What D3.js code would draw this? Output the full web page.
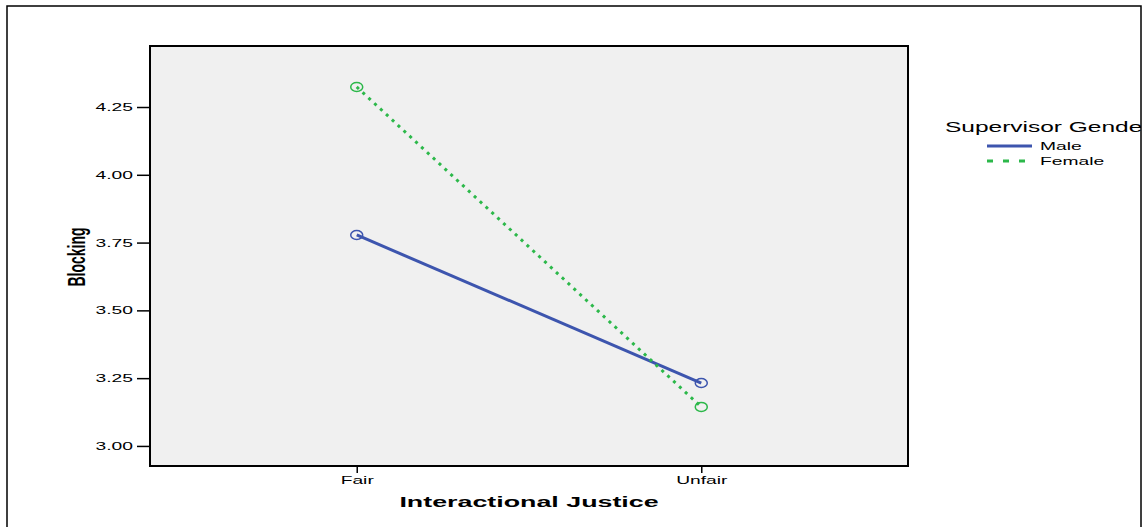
<!DOCTYPE html>
<html><head><meta charset="utf-8">
<script src="https://cdn.jsdelivr.net/npm/d3@7"></script>
<style>body{margin:0;background:#fff}svg{display:block}</style>
</head><body>
<svg id="c" width="1145" height="527"></svg>
<script>
const categories = ["Fair", "Unfair"];
const seriesNames = ["Male", "Female"];
const maleValues = [3.778, 3.232];
const femaleValues = [4.324, 3.144];
const yTicks = [3.00, 3.25, 3.50, 3.75, 4.00, 4.25];

const svg = d3.select("#c");
const plot = {l:150, r:908, t:46, b:466};
const colors = {Male:"#3d55ae", Female:"#2cb84a"};
const SX = 1.75; // horizontal text stretch
const FONT = "Liberation Sans, Arial, sans-serif";

svg.append("clipPath").attr("id","outer").append("rect").attr("x",7).attr("y",6).attr("width",1134).attr("height",530);
const g = svg.append("g").attr("clip-path","url(#outer)");

svg.append("rect").attr("x",7).attr("y",6).attr("width",1134).attr("height",540)
  .attr("fill","none").attr("stroke","#000").attr("stroke-width",1.5);

const x = d3.scalePoint().domain(categories).range([plot.l, plot.r]).padding(0.6);
const y = d3.scaleLinear().domain([2.926, 4.475]).range([plot.b, plot.t]);

g.append("rect").attr("x",plot.l).attr("y",plot.t).attr("width",plot.r-plot.l).attr("height",plot.b-plot.t)
  .attr("fill","#f0f0f0");

const yAxis = d3.axisLeft(y).tickValues(yTicks).tickFormat(d3.format(".2f")).tickSize(13).tickPadding(4);
const ya = g.append("g").attr("transform",`translate(${plot.l},0)`).call(yAxis);
ya.select(".domain").remove();
ya.selectAll(".tick line").attr("stroke","#000").attr("stroke-width",1.5);
ya.selectAll(".tick text").attr("font-family",FONT).attr("font-size",11).attr("fill","#000")
  .attr("x", -17/SX).attr("transform",`scale(${SX},1)`);

const xAxis = d3.axisBottom(x).tickSize(7).tickPadding(3);
const xa = g.append("g").attr("transform",`translate(0,${plot.b})`).call(xAxis);
xa.select(".domain").remove();
xa.selectAll(".tick line").attr("stroke","#000").attr("stroke-width",1.5);
xa.selectAll(".tick text").attr("font-family",FONT).attr("font-size",11).attr("fill","#000")
  .attr("transform",`scale(${SX},1)`);

g.append("rect").attr("x",plot.l).attr("y",plot.t).attr("width",plot.r-plot.l).attr("height",plot.b-plot.t)
  .attr("fill","none").attr("stroke","#000").attr("stroke-width",2);

const series = [
  {name:"Male", values:maleValues, dash:null},
  {name:"Female", values:femaleValues, dash:"3,5"}
];
const line = d3.line().x((d,i)=>x(categories[i])).y(d=>y(d));
series.forEach(s=>{
  g.append("path").datum(s.values).attr("d",line).attr("fill","none")
    .attr("stroke",colors[s.name]).attr("stroke-width",3)
    .attr("stroke-dasharray",s.dash);
  g.selectAll(null).data(s.values).enter().append("ellipse")
    .attr("cx",(d,i)=>x(categories[i])).attr("cy",d=>y(d)).attr("rx",6).attr("ry",4.5)
    .attr("fill","none").attr("stroke",colors[s.name]).attr("stroke-width",1.5);
});

// axis titles
g.append("text").attr("transform",`translate(85,257) rotate(-90) scale(1,${SX})`)
  .attr("text-anchor","middle").attr("font-family",FONT)
  .attr("font-weight","bold").attr("font-size",14).text("Blocking");
g.append("text").attr("transform",`translate(${(plot.l+plot.r)/2},507) scale(${SX+0.1},1)`)
  .attr("text-anchor","middle").attr("font-family",FONT)
  .attr("font-weight","bold").attr("font-size",14.5).text("Interactional Justice");

// legend
g.append("text").attr("transform",`translate(945,132) scale(${SX},1)`).attr("font-family",FONT)
  .attr("font-size",14).text("Supervisor Gender");
series.forEach((s,i)=>{
  const ly = 146 + i*15;
  g.append("line").attr("x1",987).attr("x2",1032).attr("y1",ly).attr("y2",ly)
    .attr("stroke",colors[s.name]).attr("stroke-width",3).attr("stroke-dasharray",s.dash ? "6,10" : null);
  g.append("text").attr("transform",`translate(1040,${ly+4}) scale(${SX},1)`).attr("font-family",FONT)
    .attr("font-size",11).text(s.name);
});
</script>
</body></html>
